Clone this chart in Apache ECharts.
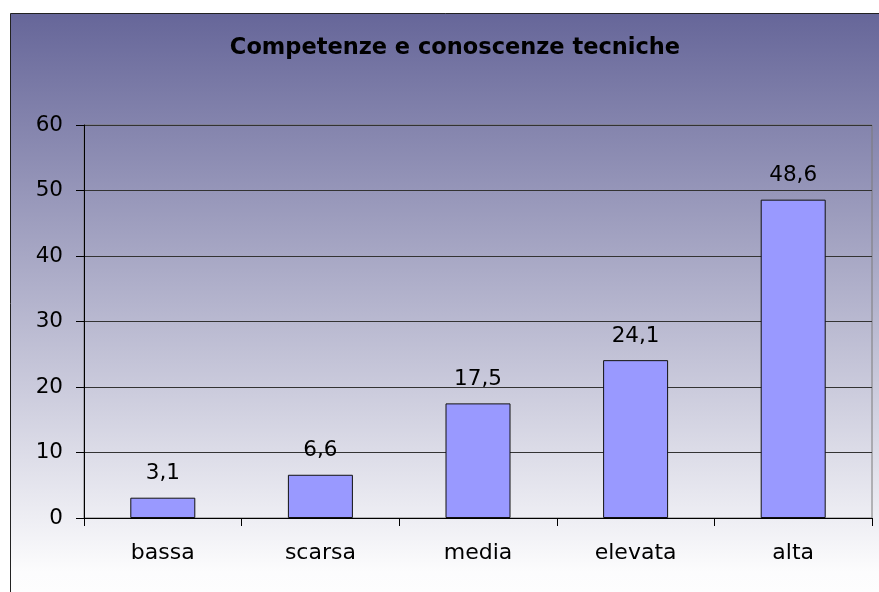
<!DOCTYPE html>
<html>
<head>
<meta charset="utf-8">
<script src="https://cdn.jsdelivr.net/npm/echarts@6/dist/echarts.min.js"></script>
<style>
  html, body { margin: 0; padding: 0; background: #fff; }
  #chart { width: 879px; height: 592px; }
</style>
</head>
<body>
<div id="chart"></div>
<script>
// data
const categories = ['bassa', 'scarsa', 'media', 'elevata', 'alta'];
const values = [3.1, 6.6, 17.5, 24.1, 48.6];
const yTicks = { min: 0, max: 60, interval: 10 };
const titleText = 'Competenze e conoscenze tecniche';

const font = 'DejaVu Sans, Liberation Sans, Arial, sans-serif';

const chart = echarts.init(document.getElementById('chart'), null, { renderer: 'canvas' });

chart.setOption({
  animation: false,
  graphic: [{
    type: 'rect',
    z: -10,
    silent: true,
    shape: { x: 10.5, y: 13.5, width: 900, height: 620 },
    style: {
      fill: new echarts.graphic.LinearGradient(0, 0, 0, 1, [
        { offset: 0, color: '#666699' },
        { offset: 0.9, color: '#fcfcfd' },
        { offset: 1, color: '#ffffff' }
      ]),
      stroke: '#222',
      lineWidth: 1
    }
  }],
  title: {
    text: titleText,
    left: 450,
    top: 32,
    textAlign: 'center',
    textStyle: { fontFamily: font, fontWeight: 'bold', fontSize: 22.5, color: '#000' }
  },
  grid: {
    left: 84, right: 7, top: 125, bottom: 74,
    show: true,
    borderColor: '#7a7a7a',
    borderWidth: 1,
    backgroundColor: 'transparent'
  },
  xAxis: {
    type: 'category',
    data: categories,
    axisLine: { lineStyle: { color: '#000', width: 1 } },
    axisTick: { show: true, length: 8, interval: 0, lineStyle: { color: '#000' } },
    axisLabel: { color: '#000', fontFamily: font, fontSize: 22, margin: 24, interval: 0 },
    splitLine: { show: false }
  },
  yAxis: {
    type: 'value',
    min: yTicks.min,
    max: yTicks.max,
    interval: yTicks.interval,
    axisLine: { show: true, lineStyle: { color: '#000', width: 1 } },
    axisTick: { show: true, length: 8, lineStyle: { color: '#000' } },
    axisLabel: { color: '#000', fontFamily: font, fontSize: 21.5, margin: 21 },
    splitLine: { show: true, lineStyle: { color: '#333', width: 1 } }
  },
  series: [{
    type: 'bar',
    data: values,
    barWidth: 65,
    itemStyle: { color: '#9999ff', borderColor: '#111', borderWidth: 1 },
    label: {
      show: true,
      position: 'top',
      distance: 13,
      color: '#000',
      fontFamily: font,
      fontSize: 21.5,
      formatter: p => String(p.value).replace('.', ',')
    }
  }]
});
</script>
</body>
</html>
